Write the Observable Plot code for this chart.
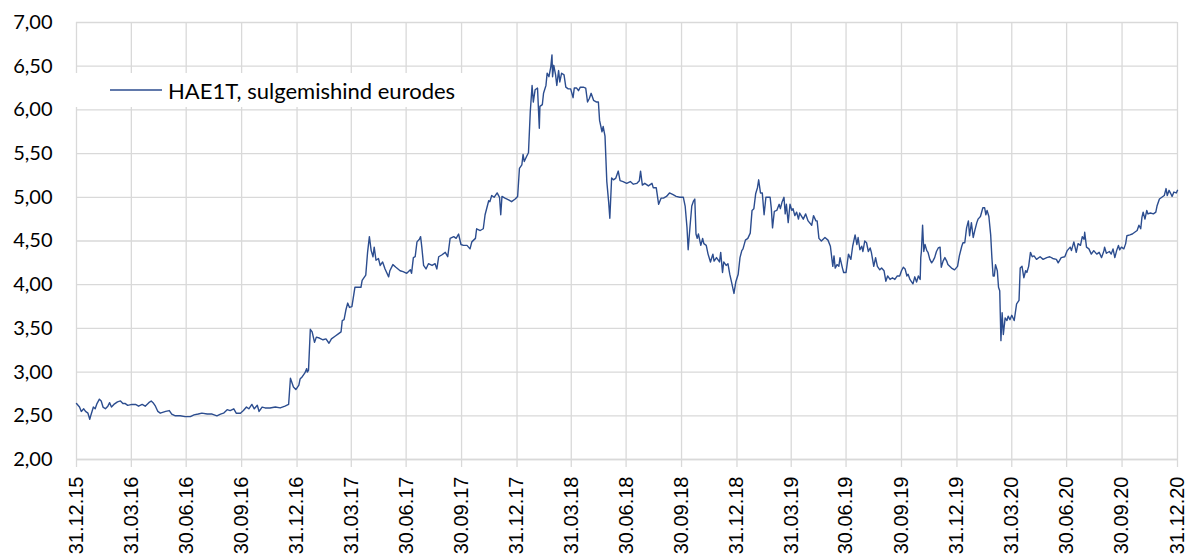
<!DOCTYPE html>
<html>
<head>
<meta charset="utf-8">
<script src="https://cdn.jsdelivr.net/npm/d3@7"></script>
<script src="https://cdn.jsdelivr.net/npm/@observablehq/plot@0.6"></script>
<style>
  html, body { margin: 0; padding: 0; background: #fff; overflow: hidden; }
  #wrap { position: relative; width: 1187px; height: 558px; }
  #legend { position: absolute; left: 75px; top: 73px; width: 412px; height: 34px; background: #fff;
            display: flex; align-items: center; font-family: Lato, "Open Sans", sans-serif; font-size: 22px; color: #000; }
  #legend svg { margin-left: 35px; margin-right: 6px; }
  #chart g[aria-label="x-axis tick label"], #chart g[aria-label="x-axis tick label"] text {
    font-family: "Liberation Sans", Arial, sans-serif !important; font-size: 20px !important; }
  #chart g[aria-label="y-axis tick label"], #chart g[aria-label="y-axis tick label"] text {
    font-family: Lato, "Open Sans", sans-serif !important; font-size: 20px !important; }
</style>
</head>
<body>
<div id="wrap">
  <div id="chart"></div>
  <div id="legend"><svg width="52" height="4"><line x1="0" x2="52" y1="2" y2="2" stroke="#2c4d8f" stroke-width="1.4"/></svg><span id="legendText"></span></div>
</div>
<script>
const seriesName = "HAE1T, sulgemishind eurodes";

const tickLabels = ["31.12.15","31.03.16","30.06.16","30.09.16","31.12.16","31.03.17","30.06.17","30.09.17",
  "31.12.17","31.03.18","30.06.18","30.09.18","31.12.18","31.03.19","30.06.19","30.09.19","31.12.19",
  "31.03.20","30.06.20","30.09.20","31.12.20"];
const yTicks = [2, 2.5, 3, 3.5, 4, 4.5, 5, 5.5, 6, 6.5, 7];

const days2015 = ["12-31"];
const vals2015 = [2.64];

const days2016 = ["01-05","01-08","01-12","01-15","01-19","01-22","01-24","01-28","01-31","02-03","02-07","02-10",
  "02-13","02-17","02-21","02-24","02-27","03-02","03-08","03-13","03-17","03-21","03-25","04-01","04-07","04-12",
  "04-18","04-23","04-29","05-03","05-06","05-10","05-14","05-18","05-27","06-02","06-06","06-12","06-20","06-28",
  "07-07","07-13","07-20","07-26","08-04","08-12","08-20","08-26","08-31","09-06","09-11","09-17","09-21","09-28",
  "10-03","10-08","10-12","10-17","10-21","10-26","10-29","11-03","11-08","11-16","11-25","12-03","12-11","12-17",
  "12-20","12-22","12-25","12-29"];
const vals2016 = [2.60,2.55,2.58,2.55,2.53,2.46,2.51,2.60,2.58,2.64,2.69,2.67,
  2.60,2.58,2.61,2.65,2.60,2.63,2.66,2.67,2.64,2.64,2.62,2.63,2.63,2.61,
  2.63,2.61,2.65,2.67,2.65,2.61,2.55,2.53,2.55,2.56,2.52,2.50,2.50,2.49,
  2.49,2.51,2.52,2.53,2.52,2.52,2.50,2.52,2.53,2.57,2.56,2.58,2.53,2.53,
  2.56,2.60,2.58,2.63,2.58,2.62,2.55,2.60,2.59,2.59,2.60,2.59,2.61,2.63,
  2.93,2.89,2.83,2.80];

const days2017 = ["01-03","01-05","01-09","01-13","01-16","01-17","01-19","01-22","01-25","01-29","02-01","02-06",
  "02-12","02-17","02-22","02-26","03-04","03-10","03-14","03-16","03-19","03-22","03-25","03-28","04-01","04-06",
  "04-10","04-16","04-18","04-24","04-27","04-30","05-03","05-06","05-08","05-11","05-15","05-18","05-22","05-26",
  "06-01","06-03","06-08","06-13","06-20","06-25","07-01","07-07","07-09","07-12","07-15","07-18","07-22","07-24",
  "07-26","07-29","08-02","08-06","08-12","08-17","08-20","08-23","08-28","09-03","09-07","09-11","09-17","09-21",
  "09-25","09-29","10-03","10-09","10-14","10-17","10-23","10-25","10-31","11-05","11-08","11-14","11-16","11-19",
  "11-23","11-28","12-02","12-04","12-06","12-11","12-17","12-22","12-28"];
const vals2017 = [2.85,2.92,2.95,2.99,3.04,3.00,3.02,3.49,3.46,3.34,3.40,3.39,
  3.37,3.38,3.33,3.38,3.41,3.44,3.46,3.59,3.60,3.71,3.79,3.74,3.75,3.97,
  3.97,3.97,4.05,4.11,4.37,4.55,4.39,4.32,4.43,4.28,4.30,4.22,4.26,4.18,
  4.09,4.16,4.23,4.20,4.16,4.15,4.13,4.17,4.13,4.31,4.32,4.49,4.52,4.55,
  4.43,4.22,4.18,4.24,4.22,4.24,4.18,4.32,4.34,4.37,4.32,4.53,4.55,4.53,
  4.58,4.46,4.45,4.45,4.41,4.49,4.53,4.64,4.62,4.64,4.80,4.96,4.95,5.02,
  5.00,5.05,5.00,4.80,5.01,4.99,4.97,4.95,4.98];

const days2018 = ["01-01","01-04","01-08","01-10","01-12","01-16","01-19","01-22","01-25","01-27","01-30","02-03",
  "02-06","02-07","02-11","02-13","02-17","02-19","02-22","02-25","02-27","02-28","03-02","03-05","03-07","03-10",
  "03-12","03-15","03-19","03-22","03-26","03-30","04-03","04-05","04-09","04-12","04-15","04-20","04-24","04-27",
  "04-30","05-03","05-07","05-12","05-15","05-17","05-21","05-23","05-26","05-29","06-01","06-03","06-06","06-09",
  "06-13","06-17","06-20","06-25","07-01","07-07","07-12","07-18","07-22","07-24","07-27","07-31","08-06","08-12",
  "08-14","08-19","08-23","08-27","08-31","09-05","09-10","09-16","09-21","09-27","10-03","10-06","10-09","10-11",
  "10-14","10-17","10-20","10-22","10-24","10-26","10-28","11-01","11-04","11-06","11-10","11-13","11-17","11-21",
  "11-23","11-27","12-02","12-04","12-07","12-09","12-13","12-16","12-19","12-22","12-26","12-29"];
const vals2018 = [5.01,5.33,5.37,5.49,5.41,5.47,5.51,5.98,6.28,6.09,6.23,6.25,
  5.79,6.04,6.06,6.19,6.28,6.42,6.38,6.49,6.63,6.38,6.51,6.40,6.28,6.45,
  6.32,6.42,6.40,6.26,6.24,6.24,6.14,6.25,6.25,6.22,6.26,6.26,6.25,6.09,
  6.13,6.19,6.11,6.09,6.09,5.88,5.75,5.81,5.70,5.18,4.95,4.76,5.22,5.20,
  5.22,5.30,5.19,5.18,5.16,5.18,5.15,5.16,5.19,5.30,5.14,5.16,5.13,5.16,
  5.11,5.11,4.92,4.99,4.99,5.01,5.05,5.03,5.01,5.00,5.00,4.90,4.66,4.40,
  4.66,4.90,4.96,4.98,4.58,4.53,4.58,4.45,4.53,4.47,4.45,4.35,4.26,4.35,
  4.27,4.31,4.26,4.37,4.14,4.26,4.22,4.24,4.12,4.03,3.90,4.03];

const days2019 = ["01-02","01-05","01-08","01-10","01-14","01-18","01-22","01-25","01-28","01-31","02-03","02-05",
  "02-08","02-11","02-14","02-17","02-20","02-24","02-26","02-28","03-03","03-07","03-11","03-13","03-16","03-19",
  "03-21","03-23","03-26","03-29","04-01","04-03","04-06","04-09","04-12","04-14","04-20","04-24","04-28","05-04",
  "05-07","05-11","05-13","05-16","05-20","05-26","05-31","06-04","06-08","06-10","06-12","06-15","06-18","06-20",
  "06-24","06-26","06-30","07-04","07-08","07-11","07-15","07-18","07-20","07-23","07-26","07-28","07-31","08-03",
  "08-06","08-09","08-11","08-15","08-18","08-21","08-25","08-28","09-01","09-04","09-07","09-11","09-15","09-19",
  "09-23","09-27","09-30","10-03","10-06","10-09","10-11","10-14","10-17","10-19","10-22","10-25","10-28","10-31",
  "11-01","11-02","11-04","11-06","11-08","11-11","11-13","11-16","11-19","11-21","11-24","11-27","11-30","12-03",
  "12-05","12-08","12-11","12-14","12-16","12-22","12-27"];
const vals2019 = [4.12,4.31,4.39,4.41,4.51,4.53,4.59,4.85,4.87,5.04,5.11,5.20,
  5.05,5.05,4.80,5.00,5.00,5.00,4.87,4.65,4.84,4.85,4.92,4.87,4.95,5.00,
  4.81,4.92,4.71,4.92,4.85,4.87,4.79,4.83,4.75,4.82,4.75,4.81,4.73,4.68,
  4.79,4.73,4.73,4.53,4.50,4.54,4.51,4.44,4.21,4.33,4.19,4.23,4.21,4.31,
  4.19,4.14,4.14,4.35,4.29,4.44,4.57,4.46,4.54,4.40,4.44,4.38,4.50,4.48,
  4.38,4.42,4.37,4.21,4.31,4.21,4.17,4.19,4.16,4.04,4.10,4.06,4.08,4.06,
  4.10,4.10,4.16,4.20,4.18,4.10,4.12,4.06,4.03,4.01,4.09,4.03,4.10,4.06,
  4.31,4.38,4.68,4.38,4.46,4.39,4.37,4.29,4.25,4.27,4.31,4.38,4.42,4.43,
  4.20,4.27,4.31,4.27,4.23,4.19,4.17];

const days2020 = ["01-01","01-04","01-08","01-10","01-13","01-16","01-19","01-21","01-24","01-27","01-30","02-02",
  "02-04","02-08","02-12","02-15","02-17","02-19","02-22","02-25","02-27","02-29","03-02","03-04","03-07","03-09",
  "03-11","03-13","03-15","03-17","03-20","03-23","03-25","03-28","03-31","04-04","04-08","04-12","04-14","04-17",
  "04-20","04-23","04-25","04-28","05-01","05-04","05-07","05-11","05-17","05-22","05-28","06-02","06-07","06-13",
  "06-16","06-21","06-27","07-01","07-06","07-08","07-12","07-16","07-19","07-23","07-26","07-29","07-30","08-02",
  "08-06","08-10","08-14","08-19","08-23","08-27","08-31","09-01","09-04","09-09","09-12","09-15","09-18","09-21",
  "09-24","09-26","09-29","10-03","10-06","10-08","10-13","10-17","10-21","10-25","10-28","10-31","11-02","11-04",
  "11-07","11-10","11-12","11-16","11-21","11-25","11-27","12-01","12-05","12-09","12-12","12-14","12-17","12-20",
  "12-22","12-25","12-29","12-31"];
const vals2020 = [4.21,4.33,4.44,4.48,4.48,4.65,4.73,4.56,4.71,4.54,4.63,4.71,
  4.75,4.78,4.88,4.88,4.80,4.85,4.78,4.57,4.31,4.10,4.10,4.23,4.16,3.97,
  3.93,3.36,3.68,3.43,3.62,3.59,3.64,3.60,3.65,3.59,3.78,3.82,4.19,4.21,
  4.08,4.16,4.14,4.21,4.37,4.32,4.33,4.29,4.32,4.29,4.31,4.32,4.30,4.29,
  4.25,4.31,4.32,4.39,4.43,4.39,4.49,4.37,4.47,4.45,4.55,4.52,4.60,4.43,
  4.41,4.35,4.39,4.35,4.37,4.31,4.39,4.43,4.36,4.38,4.35,4.41,4.31,4.39,
  4.45,4.40,4.43,4.41,4.47,4.56,4.57,4.58,4.60,4.62,4.68,4.64,4.77,4.83,
  4.75,4.85,4.81,4.82,4.81,4.83,4.90,4.98,5.00,5.02,5.10,5.02,5.08,5.04,
  5.01,5.06,5.05,5.08];

const years = [
  [2015, days2015, vals2015], [2016, days2016, vals2016], [2017, days2017, vals2017],
  [2018, days2018, vals2018], [2019, days2019, vals2019], [2020, days2020, vals2020]
];
const parseISO = d3.utcParse("%Y-%m-%d");
const data = years.flatMap(([y, ds, vs]) => ds.map((d, i) => ({date: parseISO(`${y}-${d}`), value: vs[i]})));

const parseTick = d3.utcParse("%d.%m.%y");
const xTicks = tickLabels.map(parseTick);
const fmtX = d3.utcFormat("%d.%m.%y");
const fmtY = d => d.toFixed(2).replace(".", ",");

const grid = "#d9d9d9";
const chart = Plot.plot({
  width: 1187,
  height: 558,
  marginLeft: 76,
  marginRight: 10,
  marginTop: 22,
  marginBottom: 99,
  style: {background: "#fff", color: "#000", overflow: "visible"},
  x: {type: "utc", domain: [xTicks[0], xTicks[xTicks.length - 1]], label: null},
  y: {domain: [2, 7], label: null},
  marks: [
    Plot.gridY(yTicks, {stroke: grid, strokeOpacity: 1, strokeWidth: 1.3}),
    Plot.gridX(xTicks, {stroke: grid, strokeOpacity: 1, strokeWidth: 1.3}),
    Plot.axisY(yTicks, {tickSize: 0, tickPadding: 24, tickFormat: fmtY, label: null, fill: "#000"}),
    Plot.axisX(xTicks, {tickSize: 8, tickPadding: 9, tickRotate: -90, tickFormat: fmtX, label: null,
      stroke: grid, strokeWidth: 1.3, fill: "#000"}),
    Plot.ruleY([2], {stroke: grid, strokeWidth: 1.3}),
    Plot.line(data, {x: "date", y: "value", stroke: "#2c4d8f", strokeWidth: 1.4})
  ]
});
document.getElementById("chart").appendChild(chart);
document.getElementById("legendText").textContent = seriesName;
</script>
</body>
</html>
